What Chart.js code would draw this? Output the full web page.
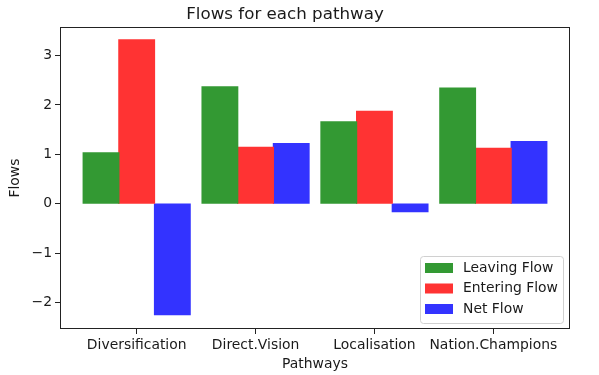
<!DOCTYPE html>
<html>
<head>
<meta charset="utf-8">
<script src="https://cdn.jsdelivr.net/npm/chart.js@4"></script>
<style>
    html, body { margin: 0; padding: 0; background: #fff; }
    #wrap { width: 599px; height: 375px; }
</style>
</head>
<body>
<div id="wrap"><canvas id="flowChart" width="599" height="375"></canvas></div>
<script>
// Data
const pathways = ['Diversification', 'Direct.Vision', 'Localisation', 'Nation.Champions'];
const leavingFlow = [1.03, 2.37, 1.66, 2.34];
const enteringFlow = [3.32, 1.14, 1.87, 1.12];
const netFlow = [-2.25, 1.22, -0.16, 1.26];
const yTicks = [-2, -1, 0, 1, 2, 3];

const FONT = 'DejaVu Sans';
const INK = '#1a1a1a';

function points(values) {
    return values.map(function(v, i) { return { x: i, y: v }; });
}

// Full frame around the plot (matplotlib spines)
const framePlugin = {
    id: 'frame',
    afterDatasetsDraw: function(chart) {
        const a = chart.chartArea;
        const ctx = chart.ctx;
        ctx.save();
        ctx.strokeStyle = '#222';
        ctx.lineWidth = 1;
        ctx.strokeRect(Math.round(a.left) + 0.5, Math.round(a.top) + 0.5,
            Math.round(a.right - a.left) - 1, Math.round(a.bottom - a.top) - 1);
        ctx.restore();
    }
};

// Legend in the lower right corner, inside the plot
const insideLegend = {
    id: 'insideLegend',
    afterDraw: function(chart) {
        const a = chart.chartArea;
        const ctx = chart.ctx;
        const sets = chart.data.datasets;
        const boxW = 143, boxH = 67;
        const x0 = a.right - 7 - boxW;
        const y0 = a.bottom - 6 - boxH;
        ctx.save();
        ctx.fillStyle = 'rgba(255,255,255,0.8)';
        ctx.strokeStyle = '#d0d0d0';
        ctx.lineWidth = 1;
        ctx.beginPath();
        ctx.roundRect(x0 + 0.5, y0 + 0.5, boxW, boxH, 3);
        ctx.fill();
        ctx.stroke();
        ctx.font = '13.9px ' + FONT;
        ctx.textBaseline = 'middle';
        sets.forEach(function(ds, i) {
            const cy = y0 + 12 + i * 20.5;
            ctx.fillStyle = ds.backgroundColor;
            ctx.fillRect(x0 + 5, cy - 5, 28, 10);
            ctx.fillStyle = INK;
            ctx.fillText(ds.label, x0 + 43, cy);
        });
        ctx.restore();
    }
};

const ctx = document.getElementById('flowChart').getContext('2d');
const flowChart = new Chart(ctx, {
    type: 'bar',
    data: {
        datasets: [{
            label: 'Leaving Flow',
            data: points(leavingFlow),
            backgroundColor: 'rgb(51, 153, 51)'
        }, {
            label: 'Entering Flow',
            data: points(enteringFlow),
            backgroundColor: 'rgb(255, 51, 51)'
        }, {
            label: 'Net Flow',
            data: points(netFlow),
            backgroundColor: 'rgb(51, 51, 255)'
        }]
    },
    options: {
        responsive: false,
        animation: false,
        categoryPercentage: 0.9,
        barPercentage: 1.0,
        inflateAmount: 0.6,
        layout: {
            padding: { left: 0, right: 29, top: 0, bottom: 0 }
        },
        plugins: {
            legend: { display: false },
            tooltip: { enabled: false },
            title: {
                display: true,
                text: 'Flows for each pathway',
                color: INK,
                font: { family: FONT, size: 16.7, weight: 'normal' },
                padding: { top: 5, bottom: 2 }
            }
        },
        scales: {
            x: {
                type: 'linear',
                offset: false,
                min: -0.645,
                max: 3.645,
                afterBuildTicks: function(scale) {
                    scale.ticks = pathways.map(function(p, i) { return { value: i }; });
                },
                afterFit: function(scale) { scale.height = 46; },
                border: { display: false },
                grid: { display: true, drawOnChartArea: false, tickLength: 5, color: '#222', offset: false },
                ticks: {
                    color: INK,
                    padding: 3,
                    maxRotation: 0,
                    autoSkip: false,
                    font: { family: FONT, size: 13.9 },
                    callback: function(value) { return pathways[value]; }
                },
                title: {
                    display: true,
                    text: 'Pathways',
                    color: INK,
                    font: { family: FONT, size: 13.9 },
                    padding: { top: 0, bottom: 2 }
                }
            },
            y: {
                min: -2.54,
                max: 3.58,
                afterBuildTicks: function(scale) {
                    scale.ticks = yTicks.map(function(v) { return { value: v }; });
                },
                afterFit: function(scale) { scale.width = 60; },
                border: { display: false },
                grid: { display: true, drawOnChartArea: false, tickLength: 5, color: '#222' },
                ticks: {
                    color: INK,
                    padding: 3,
                    font: { family: FONT, size: 13.9 },
                    callback: function(value) {
                        return value < 0 ? '\u2212' + Math.abs(value) : String(value);
                    }
                },
                title: {
                    display: true,
                    text: 'Flows',
                    color: INK,
                    font: { family: FONT, size: 13.9 },
                    padding: { top: 7, bottom: 0 }
                }
            }
        }
    },
    plugins: [framePlugin, insideLegend]
});
</script>
</body>
</html>
